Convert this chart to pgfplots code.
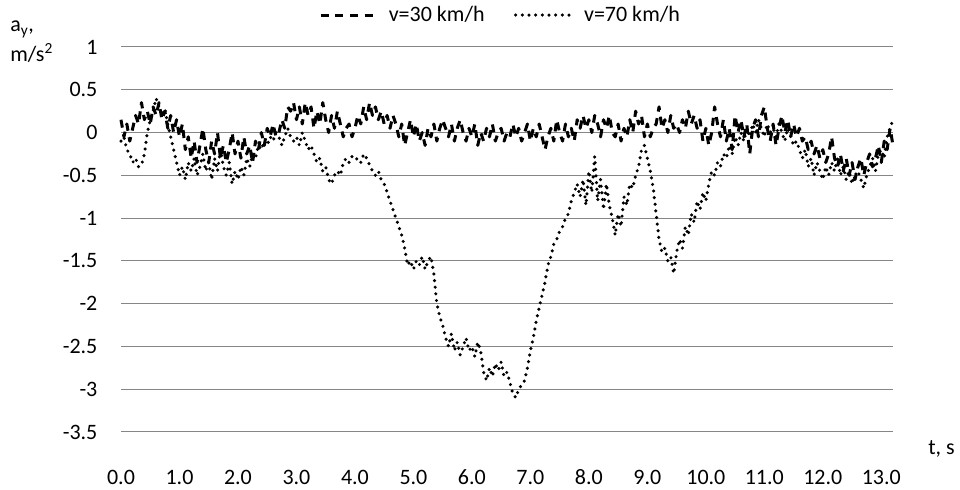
\documentclass[border=0pt]{standalone}
\usepackage{pgfplots}
\pgfplotsset{compat=1.18}
\usepackage{fontspec}
\setmainfont{Carlito}
\definecolor{gridgray}{RGB}{134,134,134}

\begin{document}
\fontsize{16.5}{19}\selectfont
\begin{tikzpicture}
% page is 960x489 px, 1px = 0.75pt
\path[use as bounding box] (0,0) rectangle (720pt,366.75pt);

\begin{axis}[
  at={(90.75pt,42.75pt)}, anchor=south west,
  scale only axis, width=579pt, height=288.75pt,
  xmin=0, xmax=13.2, ymin=-3.5, ymax=1,
  xtick={0,1,...,13},
  xticklabels={0.0,1.0,2.0,3.0,4.0,5.0,6.0,7.0,8.0,9.0,10.0,11.0,12.0,13.0},
  ytick={-3.5,-3,-2.5,-2,-1.5,-1,-0.5,0,0.5,1},
  yticklabels={-3.5,-3,-2.5,-2,-1.5,-1,-0.5,0,0.5,1},
  ymajorgrids, major grid style={gridgray, line width=0.75pt},
  axis line style={draw=none}, major tick length=0pt,
  tick label style={font=\fontsize{16.5}{19}\selectfont},
  yticklabel style={anchor=east, xshift=-12pt},
  xticklabel style={anchor=base, yshift=-39.5pt},
  legend style={at={(0.492,1.083)}, anchor=center, draw=none, fill=none,
    legend columns=2, font=\fontsize{16.5}{19}\selectfont,
    /tikz/every even column/.append style={column sep=20pt},
    inner sep=0pt},
  legend cell align=left,
  legend image code/.code={\draw[#1] (0pt,0pt) -- (43pt,0pt); \path (48pt,0pt);},
  clip=false,
]
\addplot[black, line width=2.25pt, line join=round, dash pattern=on 6pt off 5pt]
coordinates {
(0.00,0.15) (0.05,-0.05) (0.10,0.10) (0.15,-0.10) (0.20,0.05) (0.25,0.20) (0.30,0.10) (0.35,0.35) (0.40,0.15) (0.45,0.25)
(0.50,0.10) (0.55,0.30) (0.60,0.20) (0.65,0.35) (0.70,0.15) (0.75,0.25) (0.80,0.05) (0.85,0.20) (0.90,0.00) (0.95,0.15)
(1.00,-0.05) (1.05,0.10) (1.10,-0.20) (1.15,-0.05) (1.20,-0.30) (1.25,-0.10) (1.30,-0.35) (1.35,-0.15) (1.40,0.05) (1.45,-0.20)
(1.50,-0.35) (1.55,-0.10) (1.60,-0.25) (1.65,0.00) (1.70,-0.30) (1.75,-0.15) (1.80,-0.35) (1.85,-0.20) (1.90,0.00) (1.95,-0.25)
(2.00,-0.10) (2.05,-0.30) (2.10,-0.05) (2.15,-0.25) (2.20,-0.15) (2.25,-0.35) (2.30,-0.10) (2.35,-0.20) (2.40,0.00) (2.45,-0.15)
(2.50,0.05) (2.55,-0.05) (2.60,0.10) (2.65,-0.05) (2.70,0.00) (2.75,0.15) (2.80,0.05) (2.85,0.30) (2.90,0.25) (2.95,0.35)
(3.00,0.15) (3.05,0.30) (3.10,0.10) (3.15,0.35) (3.20,0.20) (3.25,0.30) (3.30,0.05) (3.35,0.25) (3.40,0.10) (3.45,0.35)
(3.50,0.15) (3.55,0.00) (3.60,0.20) (3.65,0.05) (3.70,0.25) (3.75,0.10) (3.80,-0.05) (3.85,0.05) (3.90,0.10) (3.95,-0.05)
(4.00,0.05) (4.05,0.20) (4.10,0.10) (4.15,0.30) (4.20,0.15) (4.25,0.35) (4.30,0.20) (4.35,0.30) (4.40,0.15) (4.45,0.25)
(4.50,0.10) (4.55,0.20) (4.60,0.05) (4.65,0.20) (4.70,0.10) (4.75,-0.05) (4.80,0.10) (4.85,-0.15) (4.90,0.00) (4.95,0.15)
(5.00,-0.05) (5.05,0.10) (5.10,-0.10) (5.15,0.00) (5.20,-0.15) (5.25,0.05) (5.30,-0.05) (5.35,0.10) (5.40,-0.10) (5.45,0.05)
(5.50,0.15) (5.55,0.05) (5.60,-0.05) (5.65,0.10) (5.70,-0.10) (5.75,0.05) (5.80,0.15) (5.85,0.00) (5.90,-0.10) (5.95,0.05)
(6.00,-0.05) (6.05,0.10) (6.10,-0.15) (6.15,0.00) (6.20,-0.10) (6.25,0.05) (6.30,-0.05) (6.35,0.10) (6.40,-0.10) (6.45,0.00)
(6.50,0.05) (6.55,-0.10) (6.60,0.00) (6.65,-0.05) (6.70,0.10) (6.75,-0.05) (6.80,0.05) (6.85,-0.10) (6.90,0.00) (6.95,0.10)
(7.00,-0.10) (7.05,0.05) (7.10,-0.05) (7.15,0.10) (7.20,-0.05) (7.25,-0.20) (7.30,-0.05) (7.35,0.05) (7.40,-0.10) (7.45,0.15)
(7.50,0.00) (7.55,-0.10) (7.60,0.10) (7.65,-0.05) (7.70,0.05) (7.75,-0.10) (7.80,0.15) (7.85,0.05) (7.90,0.20) (7.95,0.05)
(8.00,0.15) (8.05,0.00) (8.10,0.20) (8.15,0.10) (8.20,-0.05) (8.25,0.15) (8.30,0.05) (8.35,0.20) (8.40,0.00) (8.45,-0.05)
(8.50,0.10) (8.55,-0.10) (8.60,0.05) (8.65,-0.05) (8.70,0.15) (8.75,0.00) (8.80,0.25) (8.85,0.10) (8.90,0.20) (8.95,-0.05)
(9.00,0.10) (9.05,-0.05) (9.10,0.05) (9.15,0.10) (9.20,0.30) (9.25,0.05) (9.30,0.15) (9.35,0.00) (9.40,0.20) (9.45,0.05)
(9.50,0.10) (9.55,0.00) (9.60,0.15) (9.65,0.05) (9.70,0.25) (9.75,0.10) (9.80,0.20) (9.85,0.05) (9.90,0.15) (9.95,-0.10)
(10.00,0.05) (10.05,-0.15) (10.10,0.00) (10.15,0.30) (10.20,0.10) (10.25,-0.05) (10.30,0.15) (10.35,-0.10) (10.40,0.05) (10.45,-0.20)
(10.50,0.20) (10.55,0.00) (10.60,0.15) (10.65,-0.05) (10.70,0.10) (10.75,-0.25) (10.80,0.05) (10.85,0.15) (10.90,-0.05) (10.95,0.20)
(11.00,0.30) (11.05,0.05) (11.10,-0.10) (11.15,0.10) (11.20,-0.15) (11.25,0.05) (11.30,0.20) (11.35,0.00) (11.40,0.15) (11.45,-0.05)
(11.50,0.10) (11.55,-0.05) (11.60,0.05) (11.65,-0.10) (11.70,-0.05) (11.75,-0.20) (11.80,-0.10) (11.85,-0.25) (11.90,-0.15) (11.95,-0.30)
(12.00,-0.20) (12.05,-0.35) (12.10,-0.25) (12.15,-0.05) (12.20,-0.30) (12.25,-0.40) (12.30,-0.25) (12.35,-0.45) (12.40,-0.30) (12.45,-0.50)
(12.50,-0.35) (12.55,-0.55) (12.60,-0.40) (12.65,-0.30) (12.70,-0.50) (12.75,-0.35) (12.80,-0.25) (12.85,-0.40) (12.90,-0.30) (12.95,-0.15)
(13.00,-0.35) (13.05,-0.10) (13.10,-0.20) (13.15,0.05) (13.20,-0.15)
};
\addlegendentry{v=30 km/h}

\addplot[black, line width=2.6pt, line cap=round, dash pattern=on 0pt off 5pt]
coordinates {
(0.00,-0.10) (0.05,-0.05) (0.10,-0.20) (0.15,-0.25) (0.20,-0.35) (0.25,-0.30) (0.30,-0.40) (0.35,-0.38) (0.40,-0.25) (0.45,0.00)
(0.50,0.15) (0.55,0.25) (0.60,0.40) (0.65,0.30) (0.70,0.20) (0.75,0.28) (0.80,0.10) (0.85,-0.05) (0.90,-0.20) (0.95,-0.35)
(1.00,-0.50) (1.05,-0.40) (1.10,-0.55) (1.15,-0.35) (1.20,-0.45) (1.25,-0.30) (1.30,-0.50) (1.35,-0.40) (1.40,-0.25) (1.45,-0.45)
(1.50,-0.35) (1.55,-0.55) (1.60,-0.30) (1.65,-0.45) (1.70,-0.20) (1.75,-0.40) (1.80,-0.50) (1.85,-0.35) (1.90,-0.60) (1.95,-0.45)
(2.00,-0.55) (2.05,-0.40) (2.10,-0.50) (2.15,-0.30) (2.20,-0.40) (2.25,-0.25) (2.30,-0.30) (2.35,-0.15) (2.40,-0.20) (2.45,-0.10)
(2.50,-0.15) (2.55,-0.05) (2.60,-0.10) (2.65,0.00) (2.70,-0.05) (2.75,-0.15) (2.80,-0.05) (2.85,0.05) (2.90,-0.05) (2.95,-0.10)
(3.00,-0.05) (3.05,-0.15) (3.10,0.00) (3.15,-0.10) (3.20,-0.20) (3.25,-0.15) (3.30,-0.25) (3.35,-0.35) (3.40,-0.30) (3.45,-0.45)
(3.50,-0.40) (3.55,-0.55) (3.60,-0.60) (3.65,-0.50) (3.70,-0.45) (3.75,-0.50) (3.80,-0.35) (3.85,-0.30) (3.90,-0.35) (3.95,-0.28)
(4.00,-0.32) (4.05,-0.30) (4.10,-0.35) (4.15,-0.25) (4.20,-0.30) (4.25,-0.38) (4.30,-0.45) (4.35,-0.50) (4.40,-0.45) (4.45,-0.55)
(4.50,-0.60) (4.55,-0.70) (4.60,-0.80) (4.65,-0.90) (4.70,-1.00) (4.75,-1.10) (4.80,-1.20) (4.85,-1.35) (4.90,-1.55) (4.95,-1.50)
(5.00,-1.60) (5.05,-1.50) (5.10,-1.55) (5.15,-1.45) (5.20,-1.60) (5.25,-1.50) (5.30,-1.45) (5.35,-1.65) (5.40,-2.00) (5.45,-2.15)
(5.50,-2.25) (5.55,-2.40) (5.60,-2.50) (5.65,-2.35) (5.70,-2.55) (5.75,-2.45) (5.80,-2.60) (5.85,-2.50) (5.90,-2.40) (5.95,-2.55)
(6.00,-2.50) (6.05,-2.62) (6.10,-2.45) (6.15,-2.55) (6.20,-2.80) (6.25,-2.90) (6.30,-2.75) (6.35,-2.85) (6.40,-2.70) (6.45,-2.78)
(6.50,-2.68) (6.55,-2.85) (6.60,-2.80) (6.65,-2.92) (6.70,-3.05) (6.75,-3.10) (6.80,-3.00) (6.85,-2.95) (6.90,-2.90) (6.95,-2.75)
(7.00,-2.55) (7.05,-2.40) (7.10,-2.20) (7.15,-2.05) (7.20,-1.90) (7.25,-1.75) (7.30,-1.55) (7.35,-1.45) (7.40,-1.30) (7.45,-1.25)
(7.50,-1.15) (7.55,-1.10) (7.60,-1.00) (7.65,-0.95) (7.70,-0.80) (7.75,-0.70) (7.80,-0.60) (7.85,-0.75) (7.90,-0.55) (7.95,-0.85)
(8.00,-0.45) (8.05,-0.70) (8.10,-0.28) (8.15,-0.80) (8.20,-0.55) (8.25,-0.90) (8.30,-0.60) (8.35,-0.85) (8.40,-1.00) (8.45,-1.20)
(8.50,-0.95) (8.55,-1.10) (8.60,-0.75) (8.65,-0.85) (8.70,-0.60) (8.75,-0.65) (8.80,-0.50) (8.85,-0.40) (8.90,-0.20) (8.95,-0.15)
(9.00,-0.30) (9.05,-0.45) (9.10,-0.65) (9.15,-0.95) (9.20,-1.25) (9.25,-1.40) (9.30,-1.35) (9.35,-1.50) (9.40,-1.45) (9.45,-1.65)
(9.50,-1.40) (9.55,-1.25) (9.60,-1.35) (9.65,-1.10) (9.70,-1.20) (9.75,-0.95) (9.80,-1.05) (9.85,-0.80) (9.90,-0.90) (9.95,-0.70)
(10.00,-0.80) (10.05,-0.60) (10.10,-0.45) (10.15,-0.50) (10.20,-0.35) (10.25,-0.40) (10.30,-0.25) (10.35,-0.30) (10.40,-0.15) (10.45,-0.25)
(10.50,-0.05) (10.55,-0.15) (10.60,0.00) (10.65,-0.10) (10.70,0.05) (10.75,-0.05) (10.80,0.10) (10.85,0.00) (10.90,0.15) (10.95,0.05)
(11.00,-0.05) (11.05,0.10) (11.10,0.00) (11.15,0.05) (11.20,-0.05) (11.25,0.10) (11.30,0.00) (11.35,-0.10) (11.40,0.05) (11.45,-0.05)
(11.50,-0.15) (11.55,-0.10) (11.60,-0.20) (11.65,-0.30) (11.70,-0.20) (11.75,-0.40) (11.80,-0.30) (11.85,-0.50) (11.90,-0.35) (11.95,-0.45)
(12.00,-0.55) (12.05,-0.40) (12.10,-0.50) (12.15,-0.35) (12.20,-0.45) (12.25,-0.30) (12.30,-0.50) (12.35,-0.40) (12.40,-0.55) (12.45,-0.45)
(12.50,-0.60) (12.55,-0.50) (12.60,-0.45) (12.65,-0.55) (12.70,-0.65) (12.75,-0.50) (12.80,-0.40) (12.85,-0.30) (12.90,-0.45) (12.95,-0.25)
(13.00,-0.20) (13.05,-0.30) (13.10,-0.05) (13.15,0.05) (13.20,0.15)
};
\addlegendentry{v=70 km/h}
\end{axis}

% axis titles
\node[anchor=base west, inner sep=0pt] at (7.5pt,343pt) {a\textsubscript{y},};
\node[anchor=base west, inner sep=0pt] at (7.5pt,320.25pt) {m/s\textsuperscript{2}};
\node[anchor=base west, inner sep=0pt] at (696pt,25.5pt) {t, s};
\end{tikzpicture}
\end{document}
